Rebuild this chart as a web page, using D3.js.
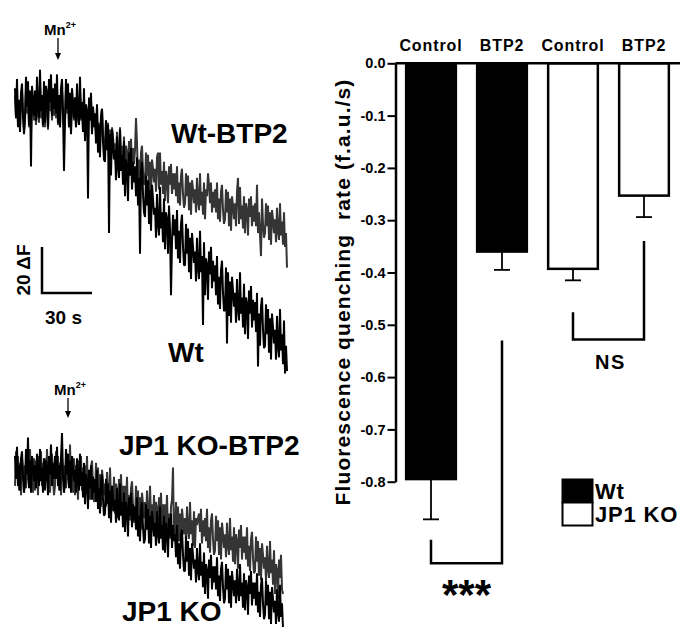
<!DOCTYPE html>
<html>
<head>
<meta charset="utf-8">
<script src="https://cdn.jsdelivr.net/npm/d3@7"></script>
<style>
  body { margin: 0; background: #fff; }
  svg { display: block; font-family: "Liberation Sans", Arial, sans-serif; font-weight: bold; }
</style>
</head>
<body>
<svg id="fig" width="680" height="627"></svg>
<script>
// ---- traces (fluorescence, f.a.u.), one sample every 0.6 s ----
const sampleDt = 0.6;
const wtTrace = [
  126,113,130,109,121,107,124,128,114,106,
  113,131,118,129,110,125,92,127,121,114,
  125,112,131,118,113,134,116,123,110,129,
  111,127,124,109,130,120,132,114,126,117,
  128,115,132,111,123,109,126,130,116,90,
  112,130,117,128,109,124,106,126,120,113,
  122,109,128,115,110,131,113,120,107,126,
  103,119,116,78,122,112,124,106,118,109,
  115,102,119,98,110,96,113,117,103,95,
  94,112,99,110,63,106,88,108,102,95,
  99,86,105,92,87,108,90,97,84,103,
  79,95,92,77,98,88,100,82,94,85,
  92,79,96,75,87,54,90,94,80,72,
  70,88,75,86,67,82,64,84,78,71,
  74,61,80,67,62,83,65,72,59,78,
  56,72,69,54,75,65,36,59,71,62,
  69,56,73,52,64,50,67,71,57,49,
  49,67,54,65,46,61,43,63,57,50,
  55,42,61,48,43,64,46,53,23,59,
  36,52,49,34,55,45,57,39,51,42,
  49,36,53,32,44,30,47,51,37,29,
  30,48,15,46,27,42,24,44,38,31,
  37,24,43,30,25,46,28,35,22,41,
  19,35,32,17,38,28,40,22,34,25,
  33,20,37,5,28,14,31,35,21,13,
  14,32,19,30,11,26,8,28,22,15,
  21,8,27,14,9,30,12,19,6,25,
  2,14,3
];
const wtBtp2Trace = [
  123,113,126,110,119,109,122,125,114,108,
  112,125,115,124,109,121,107,122,118,112,
  120,110,125,115,111,127,113,119,109,123,
  109,122,119,108,124,116,125,112,121,114,
  123,113,126,110,119,109,122,125,114,108,
  112,125,115,124,109,121,107,122,118,112,
  119,109,124,114,110,126,112,118,108,122,
  105,118,115,104,120,112,121,108,117,110,
  115,105,118,102,111,101,114,117,106,100,
  99,112,102,111,96,108,94,109,105,99,
  102,92,107,97,93,109,95,101,91,105,
  88,101,98,87,103,95,104,91,100,93,
  99,113,102,86,95,85,98,101,90,84,
  85,98,88,97,82,94,80,95,91,85,
  91,81,96,98,82,98,84,90,80,94,
  77,90,87,76,92,84,93,80,89,82,
  89,79,92,76,85,75,88,91,80,74,
  76,89,79,88,73,85,71,86,82,76,
  82,72,87,77,73,89,75,81,71,85,
  69,82,79,89,84,76,85,72,81,74,
  82,72,85,69,78,68,81,84,73,67,
  69,82,72,81,66,78,64,79,75,69,
  76,66,81,87,67,83,69,75,65,79,
  63,76,73,62,78,70,79,66,75,68,
  76,66,84,63,72,62,53,78,67,61,
  63,76,66,75,60,72,58,73,69,63,
  69,59,74,64,60,76,62,68,58,72,
  57,63,48
];
const koTrace = [
  80,70,84,67,76,65,79,82,71,64,
  68,83,72,88,66,78,64,80,75,69,
  76,66,81,71,67,83,69,75,64,79,
  65,78,75,63,80,72,85,67,77,70,
  80,70,84,67,76,65,79,90,71,64,
  68,83,72,81,66,78,64,80,75,69,
  74,64,79,69,65,81,67,73,62,77,
  59,72,69,57,74,66,76,61,71,64,
  70,60,74,57,66,55,69,72,61,54,
  55,70,59,68,53,65,51,67,62,56,
  61,51,66,56,52,68,54,60,49,64,
  47,60,57,45,62,54,64,49,59,52,
  58,48,62,45,54,43,57,60,49,42,
  44,59,48,57,42,54,40,56,51,45,
  51,41,56,46,42,58,44,50,39,54,
  38,51,48,36,53,45,55,40,50,43,
  46,36,50,33,42,31,45,48,37,30,
  30,45,34,43,28,40,26,42,37,31,
  35,25,40,30,26,42,28,34,23,38,
  20,33,30,18,35,27,37,22,32,25,
  32,22,36,19,28,17,31,34,23,16,
  18,33,22,31,16,28,14,30,25,19,
  26,16,31,21,17,33,19,25,14,29,
  13,26,23,11,28,20,30,15,25,18,
  25,15,29,12,21,10,24,27,16,9,
  11,26,15,24,9,21,7,23,18,12,
  17,7,22,12,8,24,10,16,5
];
const koBtp2Trace = [
  67,82,71,80,65,77,63,79,74,68,
  76,66,81,71,67,83,69,75,64,79,
  65,78,75,63,80,72,82,67,77,70,
  79,69,83,66,75,64,78,81,70,63,
  67,82,71,80,65,77,63,79,74,68,
  76,66,81,71,67,85,69,75,64,79,
  63,76,73,61,78,70,80,65,75,68,
  76,66,80,63,72,61,75,78,67,60,
  62,77,66,75,60,72,58,74,69,63,
  68,58,73,63,59,75,61,67,56,71,
  55,68,65,53,70,62,72,57,67,60,
  67,57,71,54,63,52,66,69,58,51,
  52,67,56,65,50,62,48,64,59,53,
  60,50,65,55,51,67,53,59,48,63,
  47,60,57,45,62,54,64,49,59,52,
  59,49,63,46,55,44,58,61,75,43,
  45,60,49,58,43,55,41,57,52,46,
  53,43,58,48,44,60,46,52,41,56,
  40,53,50,53,55,47,57,42,52,45,
  53,43,57,40,49,38,52,55,44,37,
  39,54,43,52,37,49,35,51,46,40,
  46,36,51,41,37,53,39,45,34,49,
  33,46,43,31,48,40,50,35,45,38,
  45,35,49,32,41,30,44,47,36,29,
  30,45,34,43,28,40,26,42,37,31,
  36,26,41,31,27,43,29,35,24,39,
  20,33,30,18,35,27,37,22,20
];
const mnAddTime = [25.8, 31.8];     // s, top / bottom panel
const scaleBarTime = 30;            // s
const scaleBarF = 20;               // delta F

// ---- bar chart ----
const treatments = ["Control", "BTP2", "Control", "BTP2"];
const genotypes = ["Wt", "Wt", "JP1 KO", "JP1 KO"];
const rates = [-0.795, -0.36, -0.393, -0.253];
const sems = [0.077, 0.035, 0.022, 0.041];
const yTicks = [0, -0.1, -0.2, -0.3, -0.4, -0.5, -0.6, -0.7, -0.8];
const legendLabels = ["Wt", "JP1 KO"];
const sigPairs = [
  { a: 0, b: 1, leftTop: -0.911, rightTop: -0.53, bottom: -0.956, label: "***" },
  { a: 2, b: 3, leftTop: -0.476, rightTop: -0.34, bottom: -0.528, label: "NS" }
];

const svg = d3.select("#fig");
const traceGray = "#353535";

// ---------- left: traces ----------
const xT = d3.scaleLinear().domain([0, 163.2]).range([15, 287]);
const yTop = d3.scaleLinear().domain([0, 140]).range([378, 56]);
const yBot = d3.scaleLinear().domain([0, 100]).range([640, 410]);

function drawTrace(data, yScale, color) {
  const line = d3.line()
    .x((d, i) => xT(i * sampleDt))
    .y(d => yScale(d));
  svg.append("path")
    .datum(data)
    .attr("d", line)
    .attr("fill", "none")
    .attr("stroke", color)
    .attr("stroke-width", 2)
    .attr("stroke-linejoin", "bevel");
}

drawTrace(wtBtp2Trace, yTop, traceGray);
drawTrace(wtTrace, yTop, "#000");
drawTrace(koBtp2Trace, yBot, traceGray);
drawTrace(koTrace, yBot, "#000");

// Mn2+ arrows
const arrowY = [[38, 60], [398, 418]];
mnAddTime.forEach((t, k) => {
  const ax = xT(t);
  const [y1, y2] = arrowY[k];
  svg.append("line")
    .attr("x1", ax).attr("x2", ax)
    .attr("y1", y1).attr("y2", y2 - 4)
    .attr("stroke", "#000").attr("stroke-width", 1.3);
  svg.append("path")
    .attr("d", `M${ax - 3},${y2 - 7}L${ax + 3},${y2 - 7}L${ax},${y2}Z`)
    .attr("fill", "#000");
  const mn = svg.append("text")
    .attr("x", ax - 14).attr("y", y1 - 3)
    .attr("font-size", 15);
  mn.append("tspan").text("Mn");
  mn.append("tspan").attr("font-size", 9).attr("dy", -7).text("2+");
});

// trace labels
const traceLabels = [
  { text: "Wt-BTP2", x: 171, y: 143 },
  { text: "Wt", x: 168, y: 362 },
  { text: "JP1 KO-BTP2", x: 119, y: 455 },
  { text: "JP1 KO", x: 122, y: 621 }
];
svg.selectAll(".trace-label")
  .data(traceLabels)
  .enter().append("text")
  .attr("class", "trace-label")
  .attr("x", d => d.x).attr("y", d => d.y)
  .attr("font-size", 28)
  .text(d => d.text);

// scale bar
const sbX = 42, sbY = 293;
const sbW = xT(scaleBarTime) - xT(0);
const sbH = yTop(0) - yTop(scaleBarF);
svg.append("path")
  .attr("d", `M${sbX},${sbY - sbH}V${sbY}H${sbX + sbW}`)
  .attr("fill", "none")
  .attr("stroke", "#000")
  .attr("stroke-width", 2.5);
svg.append("text")
  .attr("transform", `translate(30,${sbY - sbH / 2}) rotate(-90)`)
  .attr("text-anchor", "middle")
  .attr("font-size", 19)
  .text(`${scaleBarF} ΔF`);
svg.append("text")
  .attr("x", 45).attr("y", 324)
  .attr("font-size", 19)
  .text(`${scaleBarTime} s`);

// ---------- right: bar chart ----------
const x = d3.scaleBand()
  .domain(d3.range(rates.length))
  .range([395.5, 679.5])
  .paddingInner(0.3)
  .paddingOuter(0.15);
const y = d3.scaleLinear().domain([-0.8, 0]).range([481.7, 63.3]);

const g = svg.append("g");

// bars
g.selectAll(".bar")
  .data(rates)
  .enter().append("rect")
  .attr("class", "bar")
  .attr("x", (d, i) => x(i))
  .attr("width", x.bandwidth())
  .attr("y", y(0))
  .attr("height", d => y(d) - y(0))
  .attr("fill", (d, i) => genotypes[i] === "Wt" ? "#000" : "#fff")
  .attr("stroke", "#000")
  .attr("stroke-width", 2.5);

// error bars
rates.forEach((v, i) => {
  const cx = x(i) + x.bandwidth() / 2;
  g.append("line")
    .attr("x1", cx).attr("x2", cx)
    .attr("y1", y(v)).attr("y2", y(v - sems[i]))
    .attr("stroke", "#000").attr("stroke-width", 1.8);
  g.append("line")
    .attr("x1", cx - 8).attr("x2", cx + 8)
    .attr("y1", y(v - sems[i])).attr("y2", y(v - sems[i]))
    .attr("stroke", "#000").attr("stroke-width", 1.8);
});

// top zero line
g.append("line")
  .attr("x1", 395.5).attr("x2", 680)
  .attr("y1", y(0)).attr("y2", y(0))
  .attr("stroke", "#000").attr("stroke-width", 2.5);

// y axis
const yAxis = d3.axisLeft(y)
  .tickValues(yTicks)
  .tickFormat(d => d.toFixed(1))
  .tickSize(8)
  .tickSizeOuter(0)
  .tickPadding(2);
const ya = g.append("g")
  .attr("transform", "translate(395.5,0)")
  .call(yAxis);
ya.select(".domain").attr("stroke-width", 2.5);
ya.selectAll(".tick line").attr("stroke-width", 2);
ya.selectAll(".tick text")
  .attr("font-size", 14.5)
  .attr("font-family", "Liberation Sans, Arial, sans-serif")
  .attr("font-weight", "bold")
  .attr("fill", "#000");

// category labels
g.selectAll(".cat")
  .data(treatments)
  .enter().append("text")
  .attr("class", "cat")
  .attr("x", (d, i) => x(i) + x.bandwidth() / 2)
  .attr("y", 51)
  .attr("text-anchor", "middle")
  .attr("font-size", 16)
  .attr("letter-spacing", 0.9)
  .text(d => d);

// y title
svg.append("text")
  .attr("transform", "translate(350,292) rotate(-90)")
  .attr("text-anchor", "middle")
  .attr("font-size", 21)
  .attr("letter-spacing", 1.1)
  .style("white-space", "pre")
  .text("Fluorescence quenching  rate (f.a.u./s)");

// significance brackets
sigPairs.forEach(p => {
  const xa = x(p.a) + x.bandwidth() / 2;
  const xb = x(p.b) + x.bandwidth() / 2;
  g.append("path")
    .attr("d", `M${xa},${y(p.leftTop)}V${y(p.bottom)}H${xb}V${y(p.rightTop)}`)
    .attr("fill", "none")
    .attr("stroke", "#000")
    .attr("stroke-width", 2.5);
});
g.append("text")
  .attr("x", (x(0) + x(1) + x.bandwidth()) / 2)
  .attr("y", 609)
  .attr("text-anchor", "middle")
  .attr("font-size", 42)
  .text(sigPairs[0].label);
g.append("text")
  .attr("x", (x(2) + x(3) + x.bandwidth()) / 2 + 2)
  .attr("y", 369)
  .attr("text-anchor", "middle")
  .attr("font-size", 20)
  .attr("letter-spacing", 1.5)
  .text(sigPairs[1].label);

// legend
const legend = g.append("g").attr("transform", "translate(562.5,479.5)");
legendLabels.forEach((lab, i) => {
  legend.append("rect")
    .attr("x", 0).attr("y", i * 23)
    .attr("width", 30).attr("height", 23)
    .attr("fill", i === 0 ? "#000" : "#fff")
    .attr("stroke", "#000").attr("stroke-width", 2);
  legend.append("text")
    .attr("x", 32.5).attr("y", 19 + i * 23)
    .attr("font-size", 22)
    .attr("letter-spacing", 0.8)
    .text(lab);
});
</script>
</body>
</html>
